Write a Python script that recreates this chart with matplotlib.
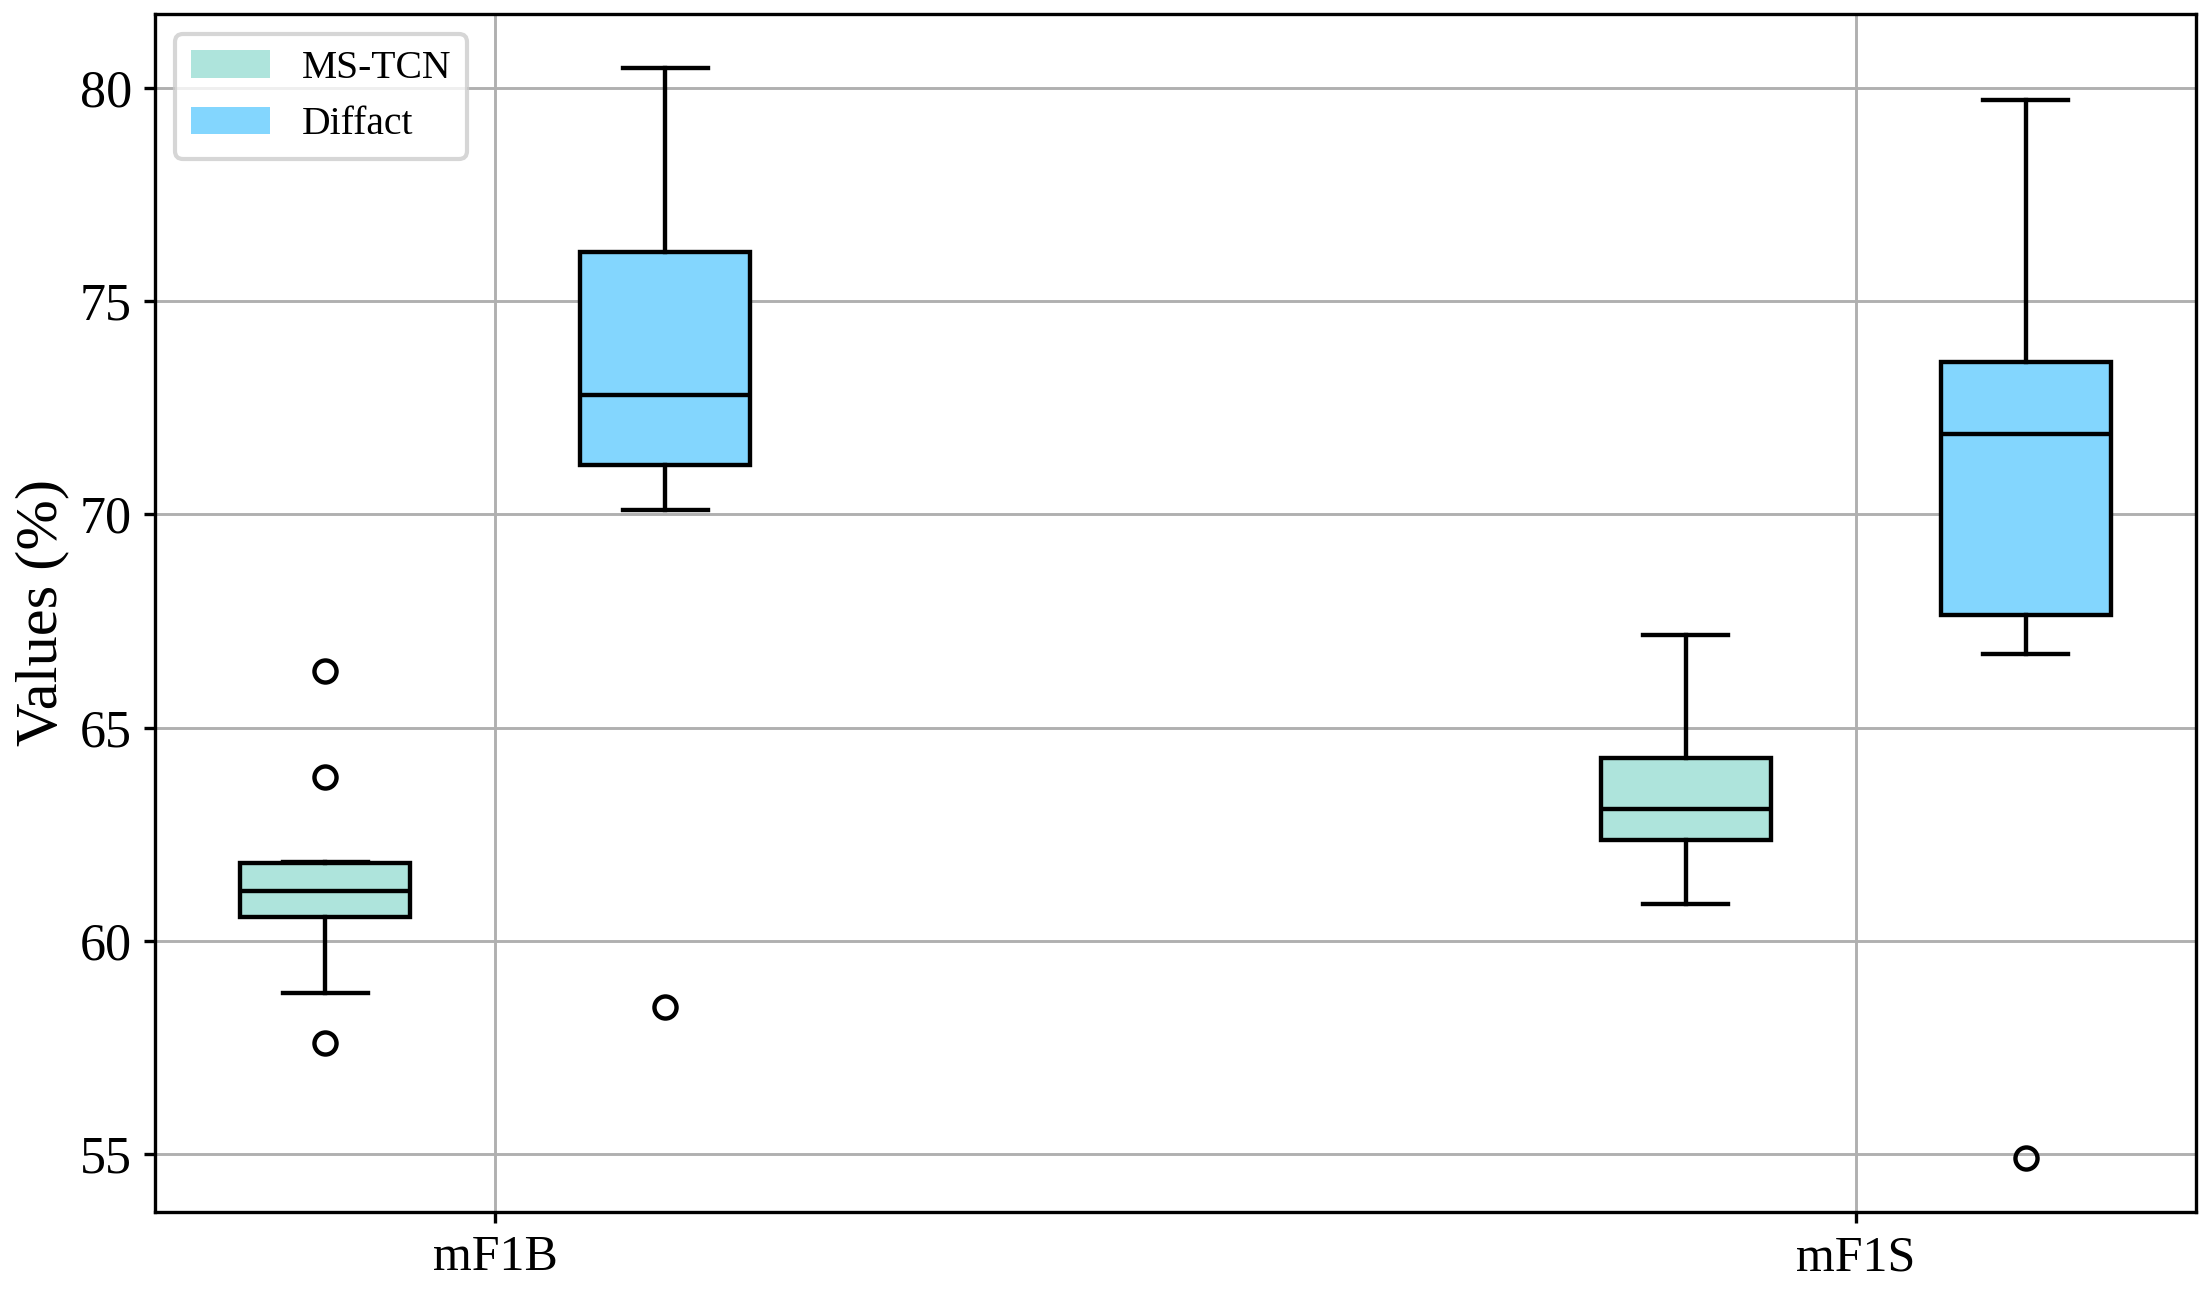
import matplotlib
matplotlib.use("Agg")
import matplotlib.pyplot as plt
from matplotlib.patches import Patch

plt.rcParams['font.family'] = ['Liberation Serif', 'DejaVu Serif']

categories = ["mF1B", "mF1S"]
methods = ["MS-TCN", "Diffact"]
colors = ["#AEE4DC", "#83D6FE"]

# per method, per category: [whislo, q1, med, q3, whishi]
mstcn_stats = [[58.77, 60.56, 61.17, 61.82, 61.84],
               [60.87, 62.36, 63.10, 64.28, 67.16]]
diffact_stats = [[70.11, 71.16, 72.80, 76.15, 80.45],
                 [66.72, 67.64, 71.88, 73.57, 79.71]]
mstcn_fliers = [[66.33, 63.84, 57.61], []]
diffact_fliers = [[58.45], [54.92]]

all_stats = [mstcn_stats, diffact_stats]
all_fliers = [mstcn_fliers, diffact_fliers]
offsets = [-0.125, 0.125]
box_width = 0.125

fig = plt.figure(figsize=(2210 / 300, 1295 / 300), dpi=300)
ax = fig.add_axes([155 / 2210, 1 - 1212 / 1295, (2196 - 155) / 2210, (1212 - 14) / 1295])

for m, (stats, fliers, off, col) in enumerate(zip(all_stats, all_fliers, offsets, colors)):
    bstats = []
    for s, f in zip(stats, fliers):
        bstats.append(dict(whislo=s[0], q1=s[1], med=s[2], q3=s[3], whishi=s[4], fliers=f))
    pos = [i + off for i in range(len(categories))]
    ax.bxp(bstats, positions=pos, widths=box_width, patch_artist=True,
           boxprops=dict(facecolor=col, edgecolor='black', linewidth=1.05),
           medianprops=dict(color='black', linewidth=1.05),
           whiskerprops=dict(color='black', linewidth=1.05),
           capprops=dict(color='black', linewidth=1.05),
           flierprops=dict(marker='o', markerfacecolor='none', markeredgecolor='black',
                           markersize=5.3, markeredgewidth=1.05),
           manage_ticks=False)

ax.set_xticks(range(len(categories)))
ax.set_xticklabels(categories, fontsize=12)
ax.set_xlim(-0.25, len(categories) - 0.75)
ax.set_yticks([55, 60, 65, 70, 75, 80])
ax.tick_params(axis='y', labelsize=12.5)
ax.tick_params(axis='both', length=2.7, pad=2.8)
ax.set_ylabel("Values (%)", fontsize=14.5, labelpad=2.5)
ax.grid(True, color='#b0b0b0', linewidth=0.7)
ax.set_axisbelow(True)

handles = [Patch(facecolor=c, edgecolor='none', label=l) for c, l in zip(colors, methods)]
ax.legend(handles=handles, loc='upper left', fontsize=9.5)

fig.savefig("out.png", dpi=300)
